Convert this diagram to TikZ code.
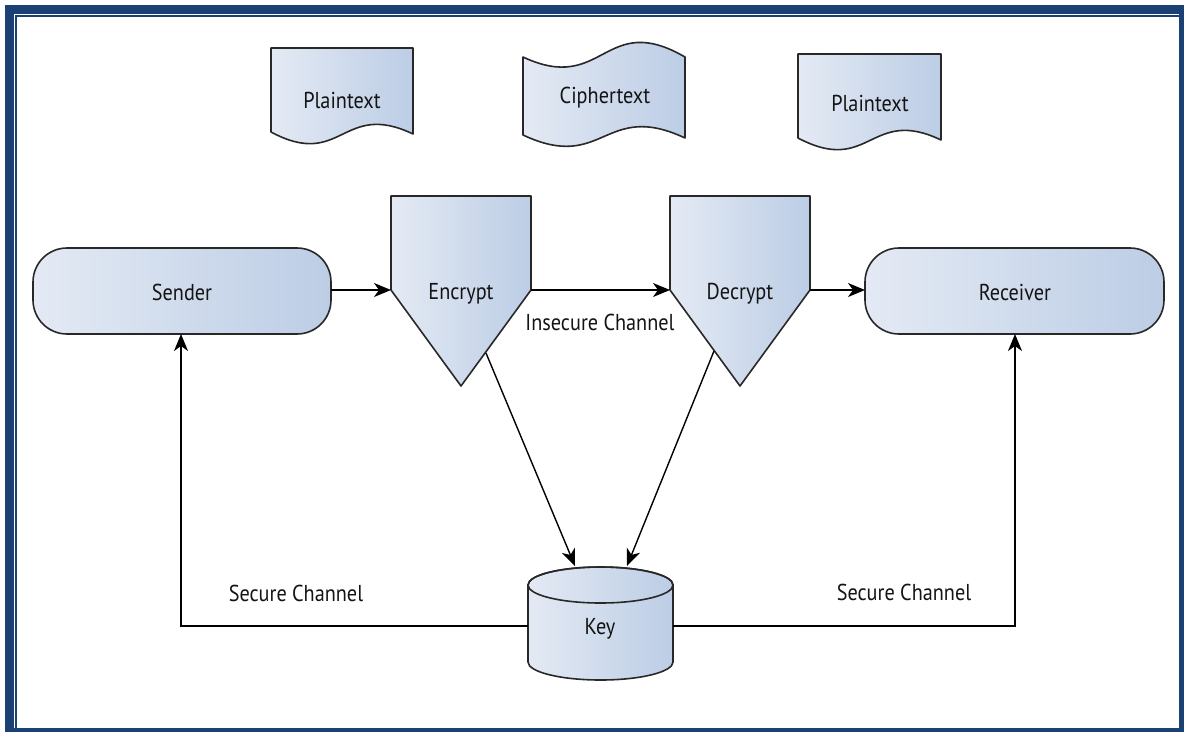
\documentclass[tikz,border=0pt]{standalone}
\usepackage{fontspec}
\setmainfont[FakeStretch=0.88]{PT Sans}
\usetikzlibrary{arrows.meta}
\definecolor{frameblue}{RGB}{26,64,116}
\definecolor{fillL}{RGB}{228,234,244}
\definecolor{fillR}{RGB}{188,205,229}
\definecolor{edge}{RGB}{40,40,40}
\definecolor{ink}{RGB}{20,20,20}
\tikzset{
  shp/.style={draw=edge, line width=1.6pt, left color=fillL, right color=fillR, line join=round},
  lbl/.style={text=ink, font=\fontsize{23pt}{27pt}\selectfont, inner sep=0pt},
  conn/.style={draw=black, line width=1.4pt, -{Stealth[length=17pt,width=14pt,inset=5pt]}},
  plain/.style={draw=black, line width=1.4pt}
}
\begin{document}
\begin{tikzpicture}[x=1pt,y=-1pt]
\useasboundingbox (0,0) rectangle (1184,732);
% frame
\fill[frameblue] (5,5) rectangle (1184,732);
\fill[white] (14,14) rectangle (1179,728);
\draw[frameblue, line width=2pt] (16,728) -- (16,16) -- (1179,16);

% documents
\path[shp] (271,48) -- (413,48) -- (413,134) .. controls (342,100) and (342,170) .. (271,132) -- cycle;
\node[lbl] (pt1) at (342,100) {Plaintext};
\path[shp] (523,57) .. controls (604,95) and (604,10) .. (685,57) -- (685,138) .. controls (604,100) and (604,173) .. (523,135) -- cycle;
\node[lbl] (ct) at (605,98) {Ciphertext};
\path[shp] (798,54) -- (941,54) -- (941,140) .. controls (870,106) and (870,176) .. (798,138) -- cycle;
\node[lbl] (pt2) at (870,103) {Plaintext};

% sender / receiver
\path[shp, rounded corners=34pt] (33,248) rectangle (331,334);
\node[lbl] (sender) at (182,292) {Sender};
\coordinate (senderE) at (331,290);
\coordinate (senderS) at (181,334);
\path[shp, rounded corners=34pt] (865,248) rectangle (1164,334);
\node[lbl] (receiver) at (1015,292) {Receiver};
\coordinate (receiverW) at (865,290);
\coordinate (receiverS) at (1015,334);

% encrypt / decrypt
\path[shp] (391,196) -- (531,196) -- (531,290) -- (461,386) -- (391,290) -- cycle;
\node[lbl] (encrypt) at (461,294) {Encrypt};
\coordinate (encW) at (391,290);
\coordinate (encE) at (531,290);
\coordinate (encSE) at (486,353);
\path[shp] (670,196) -- (810,196) -- (810,290) -- (740,386) -- (670,290) -- cycle;
\node[lbl] (decrypt) at (740,294) {Decrypt};
\coordinate (decW) at (670,290);
\coordinate (decE) at (810,290);
\coordinate (decSW) at (714,351);

% key cylinder
\path[shp] (528,585) -- (528,662) arc[start angle=180, end angle=360, x radius=72.5pt, y radius=18pt] -- (673,585) arc[start angle=0, end angle=180, x radius=72.5pt, y radius=18pt] -- cycle;
\draw[draw=edge, line width=1.6pt] (600.5,585) ellipse[x radius=72.5pt, y radius=18pt];
\node[lbl] (key) at (600,629) {Key};
\coordinate (keyW) at (528,626);
\coordinate (keyE) at (673,626);
\coordinate (keyT1) at (575,566);
\coordinate (keyT2) at (627,566);

% connectors
\draw[conn] (senderE) -- (encW);
\draw[conn] (encE) -- (decW);
\draw[conn] (decE) -- (receiverW);
\draw[conn] (encSE) -- (keyT1);
\draw[conn] (decSW) -- (keyT2);
\draw[conn] (keyW) -| (senderS);
\draw[conn] (keyE) -| (receiverS);

% labels
\node[lbl] (ins) at (600,322) {Insecure Channel};
\node[lbl] (sec1) at (296,593) {Secure Channel};
\node[lbl] (sec2) at (904,592) {Secure Channel};
\end{tikzpicture}
\end{document}
